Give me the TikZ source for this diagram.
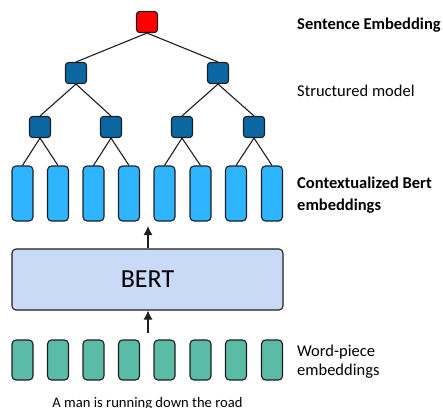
\documentclass[tikz,border=0pt]{standalone}
\usepackage{tikz}
\usepackage{fontspec}
\setmainfont{Carlito}
\usetikzlibrary{arrows.meta}

\definecolor{rootred}{HTML}{FF0000}
\definecolor{treeblue}{HTML}{0B67A2}
\definecolor{ctxblue}{HTML}{2FB4FF}
\definecolor{wordgreen}{HTML}{5ABBA6}
\definecolor{bertblue}{HTML}{C9DAF6}
\definecolor{edge}{HTML}{1E1E1E}

\tikzset{
  treebox/.style={draw=edge, line width=1.1pt, rounded corners=3pt, minimum width=21pt, minimum height=21pt, inner sep=0pt},
  ctxbox/.style={draw=edge, line width=1.1pt, rounded corners=4pt, fill=ctxblue, minimum width=21pt, minimum height=55pt, inner sep=0pt},
  wordbox/.style={draw=edge, line width=1.1pt, rounded corners=4pt, fill=wordgreen, minimum width=21pt, minimum height=40pt, inner sep=0pt},
  treeline/.style={edge, line width=1.1pt},
  sidelabel/.style={anchor=west, align=left, font=\fontsize{16.5}{20}\selectfont, inner sep=0pt}
}

\begin{document}
\begin{tikzpicture}[>={Latex[length=9pt, width=9pt]}, x=1pt, y=-1pt]

\useasboundingbox (0, 0) rectangle (443, 407);

% tree
\node[treebox, fill=rootred] (root) at (147, 22) {};

\node[treebox, fill=treeblue] (s1) at (76, 73) {};
\node[treebox, fill=treeblue] (s2) at (218, 73) {};

\node[treebox, fill=treeblue] (t1) at (40, 127) {};
\node[treebox, fill=treeblue] (t2) at (111, 127) {};
\node[treebox, fill=treeblue] (t3) at (182, 127) {};
\node[treebox, fill=treeblue] (t4) at (254, 127) {};

% contextualized embeddings
\node[ctxbox] (c1) at (22.5, 193.5) {};
\node[ctxbox] (c2) at (58, 193.5) {};
\node[ctxbox] (c3) at (93.5, 193.5) {};
\node[ctxbox] (c4) at (129, 193.5) {};
\node[ctxbox] (c5) at (164.5, 193.5) {};
\node[ctxbox] (c6) at (200.5, 193.5) {};
\node[ctxbox] (c7) at (236, 193.5) {};
\node[ctxbox] (c8) at (272, 193.5) {};

\draw[treeline] (root.south) -- (s1.north);
\draw[treeline] (root.south) -- (s2.north);
\draw[treeline] (s1.south) -- (t1.north);
\draw[treeline] (s1.south) -- (t2.north);
\draw[treeline] (s2.south) -- (t3.north);
\draw[treeline] (s2.south) -- (t4.north);
\draw[treeline] (t1.south) -- (c1.north);
\draw[treeline] (t1.south) -- (c2.north);
\draw[treeline] (t2.south) -- (c3.north);
\draw[treeline] (t2.south) -- (c4.north);
\draw[treeline] (t3.south) -- (c5.north);
\draw[treeline] (t3.south) -- (c6.north);
\draw[treeline] (t4.south) -- (c7.north);
\draw[treeline] (t4.south) -- (c8.north);

% BERT
\node[draw=edge, line width=1.1pt, rounded corners=4pt, fill=bertblue, minimum width=271pt, minimum height=61pt, font=\fontsize{26}{30}\selectfont] (bert) at (147.5, 279.5) {BERT};

% word pieces
\node[wordbox] (w1) at (22.5, 360) {};
\node[wordbox] (w2) at (58, 360) {};
\node[wordbox] (w3) at (93.5, 360) {};
\node[wordbox] (w4) at (129, 360) {};
\node[wordbox] (w5) at (164.5, 360) {};
\node[wordbox] (w6) at (200.5, 360) {};
\node[wordbox] (w7) at (236, 360) {};
\node[wordbox] (w8) at (272, 360) {};

\coordinate (up) at (148, 226);
\coordinate (low) at (148, 333);
\draw[treeline, ->] (bert.north -| up) -- (up);
\draw[treeline, ->] (low) -- (bert.south -| low);

\node[font=\fontsize{14.6}{17}\selectfont, inner sep=0pt] (sent) at (147.5, 404) {A man is running down the road};

% labels
\node[sidelabel, font=\fontsize{16.5}{20}\selectfont\bfseries] (lsent) at (297, 25) {Sentence Embedding};
\node[sidelabel] (lstruct) at (297, 91) {Structured model};
\node[sidelabel, font=\fontsize{16.5}{21.5}\selectfont\bfseries] (lctx) at (297, 195) {Contextualized Bert\\embeddings};
\node[sidelabel, font=\fontsize{16.5}{19}\selectfont] (lword) at (297, 362) {Word-piece\\embeddings};

\end{tikzpicture}
\end{document}
